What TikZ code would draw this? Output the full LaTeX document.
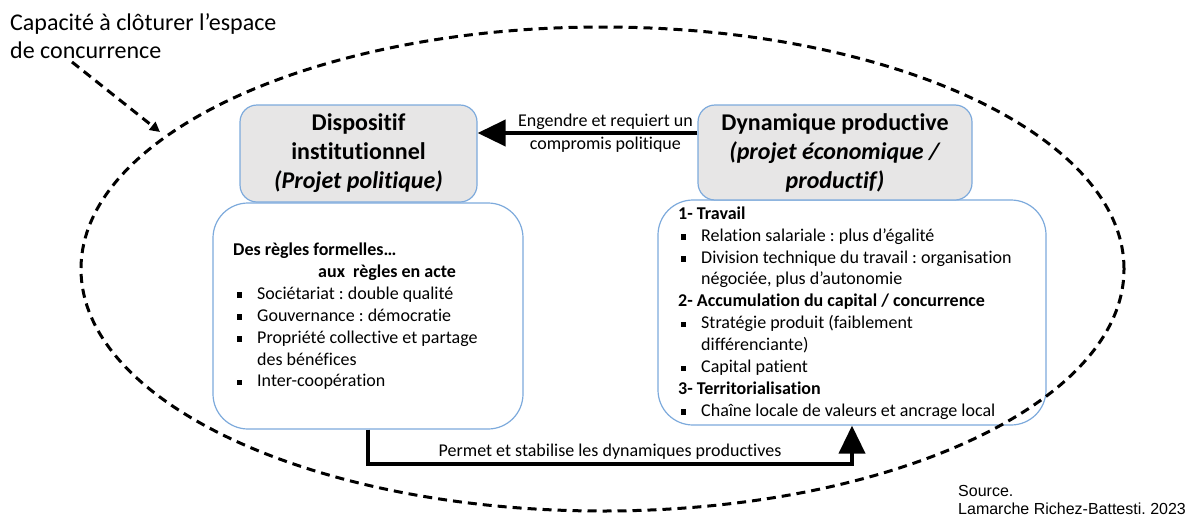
\documentclass[tikz,border=0pt]{standalone}
\usepackage{fontspec}
\setmainfont{Carlito}[Ligatures=CommonOff]
\newfontfamily\srcfont{Liberation Sans}
\usetikzlibrary{arrows.meta,calc}
\definecolor{boxblue}{RGB}{125,170,220}
\definecolor{boxgray}{RGB}{231,230,230}
\frenchspacing
\tikzset{
 titlebox/.style={draw=boxblue, line width=1.2pt, fill=boxgray, rounded corners=17pt, align=center, font=\fontsize{24}{29}\selectfont\bfseries, inner sep=0pt},
 contentbox/.style={draw=boxblue, line width=1.2pt, fill=white, rounded corners=35pt, inner sep=0pt},
 bodytext/.style={align=left, font=\fontsize{18}{21.9}\selectfont\frenchspacing, inner sep=0pt, anchor=west},
 bigarrow/.style={line width=4pt, -{Triangle[length=28pt,width=26pt]}},
 dasharrow/.style={line width=3pt, dash pattern=on 9pt off 6pt},
 lbl/.style={font=\fontsize{18}{22.5}\selectfont, align=center, inner sep=0pt},
}
\newcommand{\bul}{\hspace*{3.5pt}\rule[1.5pt]{5.5pt}{5.5pt}\hspace*{15pt}}
\newcommand{\bulr}{\hspace*{2.5pt}\rule[1.5pt]{5.5pt}{5.5pt}\hspace*{15pt}}
\begin{document}
\begin{tikzpicture}[x=1pt,y=-1pt]
\useasboundingbox (0,0) rectangle (1188,517);
% content boxes
\node[contentbox, minimum width=310pt, minimum height=226pt] (lbox) at (368,316) {};
\node[contentbox, minimum width=388pt, minimum height=225pt] (rbox) at (852,312.5) {};
% title boxes
\node[titlebox, minimum width=237pt, minimum height=97pt] (disp) at (358.5,153.5) {Dispositif\\institutionnel\\\textit{(Projet politique)}};
\node[titlebox, minimum width=274pt, minimum height=95pt] (dyn) at (835,152.5) {Dynamique productive\\\textit{(projet économique /}\\\textit{productif)}};
% texts
\node[bodytext] (ltext) at (233,316.4) {\textbf{Des règles formelles…}\\
\hspace*{85pt}\textbf{aux\ \ règles en acte}\\
\bul Sociétariat : double qualité\\
\bul Gouvernance : démocratie\\
\bul Propriété collective et partage\\
\hspace*{24pt}des bénéfices\\
\bul Inter-coopération};
\node[bodytext] (rtext) at (678,313) {\textbf{1- Travail}\\
\bulr Relation salariale : plus d’égalité\\
\bulr Division technique du travail : organisation\\
\hspace*{23pt}négociée, plus d’autonomie\\
\textbf{2- Accumulation du capital / concurrence}\\
\bulr Stratégie produit (faiblement\\
\hspace*{23pt}différenciante)\\
\bulr Capital patient\\
\textbf{3- Territorialisation}\\
\bulr Chaîne locale de valeurs et ancrage local};
% connectors
\draw[bigarrow] ([yshift=19.5pt]dyn.west) -- ([yshift=19.5pt]dyn.west -| disp.east)
  node[lbl, pos=0.4186] (toplbl) {Engendre et requiert un\\compromis politique};
\draw[bigarrow] (lbox.south) -- ++(0,34) -| (rbox.south)
  node[lbl, pos=0.25, above=2pt] (botlbl) {Permet et stabilise les dynamiques productives};
% enclosing dashed ellipse
\draw[dasharrow] (602.5,269) ellipse [x radius=521.5pt, y radius=242pt];
% annotation
\node[anchor=north west, inner sep=0pt, align=left, font=\fontsize{24}{28}\selectfont] (cap) at (10,13) {Capacité à clôturer l’espace\\de concurrence};
\coordinate (capA) at (72,62);
\coordinate (capB) at (160,132);
\draw[dasharrow, -{Triangle[length=10pt,width=10pt]}] (capA) -- (capB);
% source
\node[anchor=south west, inner sep=0pt, align=left, font=\srcfont\fontsize{16}{18}\selectfont] (src) at (958,515) {Source.\\Lamarche Richez-Battesti. 2023};
\end{tikzpicture}
\end{document}
